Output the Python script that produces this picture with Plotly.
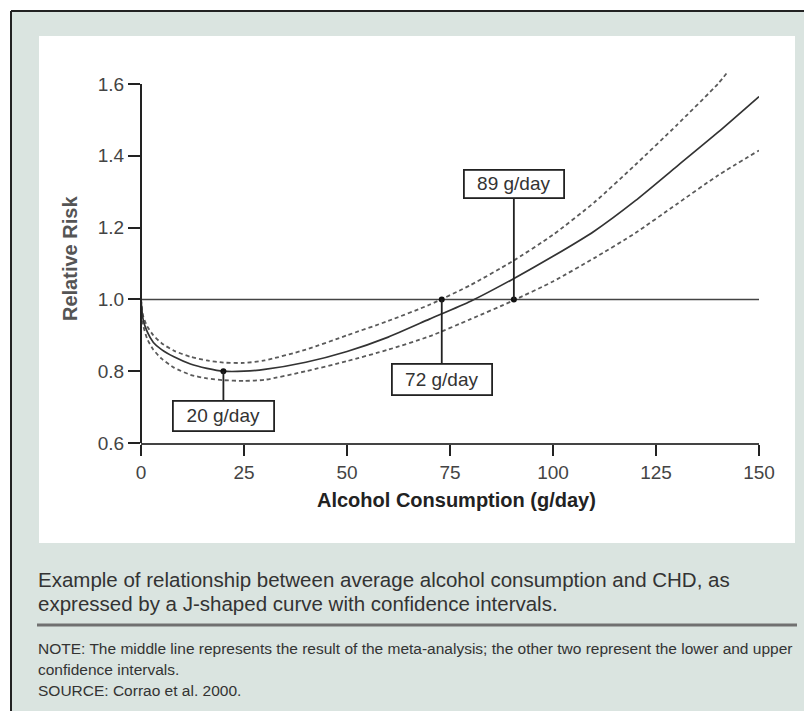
import plotly.graph_objects as go

# ---------------- data ----------------
X_MID = [0, 0.5, 1.5, 3, 5, 8, 12, 16, 20, 25, 30, 40, 50, 60, 70, 80, 90, 100, 110, 120, 130, 140, 150]
RR_MID = [1.00, 0.945, 0.91, 0.88, 0.86, 0.84, 0.82, 0.808, 0.80, 0.80, 0.805, 0.825, 0.855, 0.895,
          0.945, 0.995, 1.055, 1.12, 1.19, 1.275, 1.37, 1.465, 1.565]

X_UP = [0, 0.5, 1.5, 3, 5, 8, 12, 16, 20, 25, 30, 40, 50, 60, 70, 80, 90, 100, 110, 120, 130, 140, 142.5]
RR_UP = [1.00, 0.955, 0.925, 0.90, 0.878, 0.857, 0.84, 0.83, 0.824, 0.823, 0.83, 0.86, 0.90, 0.94,
         0.985, 1.04, 1.105, 1.18, 1.27, 1.375, 1.485, 1.60, 1.635]

X_LO = [0, 0.5, 1.5, 3, 5, 8, 12, 16, 20, 25, 30, 40, 50, 60, 70, 80, 90, 100, 110, 120, 130, 140, 150]
RR_LO = [1.00, 0.93, 0.89, 0.86, 0.835, 0.81, 0.79, 0.78, 0.775, 0.773, 0.776, 0.80, 0.828, 0.86,
         0.897, 0.945, 0.995, 1.05, 1.115, 1.185, 1.265, 1.345, 1.415]

REF_RR = 1.0
MARK_X = [20, 73, 90.5]
MARK_Y = [0.80, 1.0, 1.0]
MARK_LABELS = ["20 g/day", "72 g/day", "89 g/day"]

X_TICKS = [0, 25, 50, 75, 100, 125, 150]
Y_TICKS = [0.6, 0.8, 1.0, 1.2, 1.4, 1.6]
Y_TICK_LABELS = ["0.6", "0.8", "1.0", "1.2", "1.4", "1.6"]

X_TITLE = "Alcohol Consumption (g/day)"
Y_TITLE = "Relative Risk"
CAPTION = ["Example of relationship between average alcohol consumption and CHD, as",
           "expressed by a J-shaped curve with confidence intervals."]
NOTES = ["NOTE: The middle line represents the result of the meta-analysis; the other two represent the lower and upper",
         "confidence intervals.",
         "SOURCE: Corrao et al. 2000."]

# ---------------- layout geometry ----------------
W, H = 804, 711
L, R, T, B = 141, 759, 62, 443
Y_TOP_PX = 84            # pixel row where the top tick (1.6) sits
PW, PH = R - L, B - T
Y_SPAN = Y_TICKS[-1] - Y_TICKS[0]
Y_MAX = Y_TICKS[0] + Y_SPAN * PH / (B - Y_TOP_PX)   # headroom so the upper band can rise past 1.6


def px(x):
    return (x - L) / PW


def py(y):
    return (B - y) / PH


FONT = "Liberation Sans, Arial, sans-serif"
BG = "#dae4e0"

fig = go.Figure()

fig.add_trace(go.Scatter(x=X_UP, y=RR_UP, mode="lines", line=dict(color="#5a5a5a", width=1.8, dash="4px,3px", shape="spline", smoothing=0.6), hoverinfo="skip"))
fig.add_trace(go.Scatter(x=X_LO, y=RR_LO, mode="lines", line=dict(color="#5a5a5a", width=1.8, dash="4px,3px", shape="spline", smoothing=0.6), hoverinfo="skip"))
fig.add_trace(go.Scatter(x=X_MID, y=RR_MID, mode="lines", line=dict(color="#333333", width=1.7, shape="spline", smoothing=0.6), hoverinfo="skip"))
fig.add_trace(go.Scatter(x=MARK_X, y=MARK_Y, mode="markers", marker=dict(color="#111111", size=6), hoverinfo="skip"))

shapes = [
    dict(type="rect", xref="paper", yref="paper", x0=px(12), x1=px(W + 2), y0=py(12), y1=py(H + 2),
         fillcolor=BG, line=dict(width=0), layer="below"),
    dict(type="rect", xref="paper", yref="paper", x0=px(39), x1=px(795), y0=py(36), y1=py(543),
         fillcolor="white", line=dict(width=0), layer="below"),
    dict(type="line", xref="paper", yref="paper", x0=px(11), x1=px(W + 2), y0=py(11), y1=py(11),
         line=dict(color="#222222", width=2)),
    dict(type="line", xref="paper", yref="paper", x0=px(11), x1=px(11), y0=py(11), y1=py(H + 2),
         line=dict(color="#222222", width=2)),
    dict(type="line", xref="paper", yref="paper", x0=px(37), x1=px(797), y0=py(625), y1=py(625),
         line=dict(color="#707070", width=3)),
    # y axis line from 0.6 to 1.6 only (paper-referenced so it is not clipped)
    dict(type="line", xref="paper", yref="paper", x0=0, x1=0, y0=0,
         y1=(Y_TICKS[-1] - Y_TICKS[0]) / (Y_MAX - Y_TICKS[0]),
         line=dict(color="#222222", width=2)),
    # reference line RR = 1
    dict(type="line", xref="x", yref="y", x0=X_TICKS[0], x1=X_TICKS[-1], y0=REF_RR, y1=REF_RR,
         line=dict(color="#444444", width=1.5), layer="below"),
]

annotations = []
box_offsets = [45, 80, -115]
box_sizes = [(95, 24), (94, 25), (94, 22)]
for xv, yv, lab, ay, (bw, bh) in zip(MARK_X, MARK_Y, MARK_LABELS, box_offsets, box_sizes):
    annotations.append(dict(x=xv, y=yv, xref="x", yref="y", text=lab, showarrow=True,
                            arrowhead=0, arrowwidth=1.8, arrowcolor="#222222", ax=0, ay=ay,
                            standoff=0, bordercolor="#222222", borderwidth=1.8, borderpad=2,
                            bgcolor="white", width=bw, height=bh,
                            font=dict(family=FONT, size=19, color="#333333")))

annotations.append(dict(x=px(456), y=py(500), xref="paper", yref="paper", text="<b>" + X_TITLE + "</b>",
                        xanchor="center", yanchor="middle",
                        showarrow=False, font=dict(family=FONT, size=20, color="#222222")))
annotations.append(dict(x=px(70), y=py(259), xref="paper", yref="paper", text="<b>" + Y_TITLE + "</b>",
                        xanchor="center", yanchor="middle",
                        textangle=-90, showarrow=False, font=dict(family=FONT, size=20, color="#555555")))

for i, line in enumerate(CAPTION):
    annotations.append(dict(x=px(36), y=py(579 + 24 * i), xref="paper", yref="paper", text=line,
                            xanchor="left", yanchor="middle", showarrow=False,
                            font=dict(family=FONT, size=20.5, color="#333333")))
for i, line in enumerate(NOTES):
    annotations.append(dict(x=px(36), y=py(648 + 21 * i), xref="paper", yref="paper", text=line,
                            xanchor="left", yanchor="middle", showarrow=False,
                            font=dict(family=FONT, size=15.5, color="#333333")))

fig.update_layout(
    width=W, height=H,
    margin=dict(l=L, r=W - R, t=T, b=H - B, pad=0),
    paper_bgcolor="white", plot_bgcolor="white",
    showlegend=False,
    shapes=shapes, annotations=annotations,
    xaxis=dict(range=[X_TICKS[0], X_TICKS[-1]], tickvals=X_TICKS, ticks="outside", ticklen=11,
               tickwidth=2, tickcolor="#222222", showline=True, linecolor="#444444", linewidth=1.6,
               showgrid=False, zeroline=False, tickfont=dict(family=FONT, size=19, color="#444444")),
    yaxis=dict(range=[Y_TICKS[0], Y_MAX], tickvals=Y_TICKS, ticktext=Y_TICK_LABELS,
               ticks="outside", ticklen=12, tickwidth=2, tickcolor="#222222", showline=False,
               showgrid=False, zeroline=False,
               tickfont=dict(family=FONT, size=19, color="#444444")),
)

fig.write_html("out.html", config={"displayModeBar": False},
               post_script="document.body.style.margin='0';")
